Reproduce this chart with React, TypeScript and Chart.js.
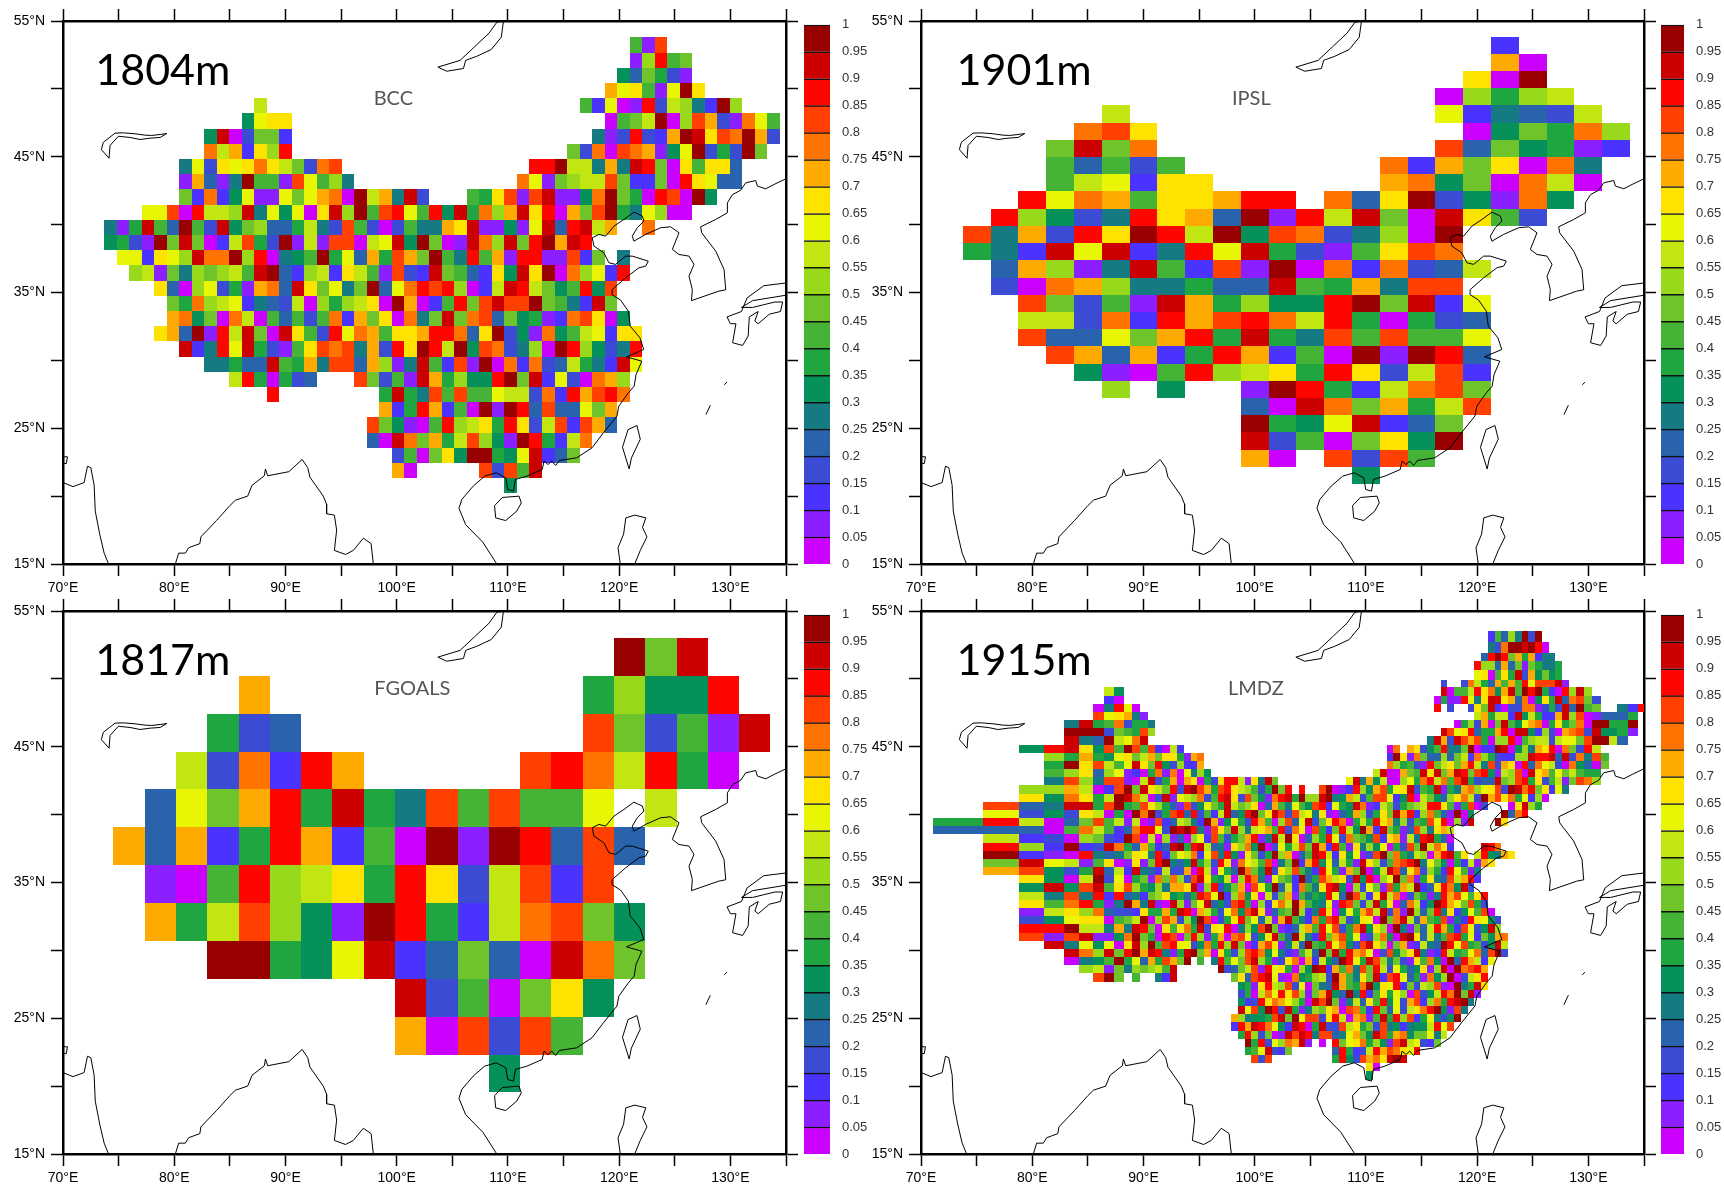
import React, { useEffect, useRef } from "react";
import { Chart, registerables } from "chart.js";
Chart.register(...registerables);

type Row = [number, number, string];

const levels = [0,0.05,0.1,0.15,0.2,0.25,0.3,0.35,0.4,0.45,0.5,0.55,0.6,0.65,0.7,0.75,0.8,0.85,0.9,0.95];
const levelColors = ["#cc00ff","#8c1fff","#4b33ff","#3b4bd4","#2863ab","#157a82","#07915a","#1fa640","#45b336","#70c42b","#99d91c","#c2e612","#e8f505","#ffe300","#ffaa00","#ff7300","#ff4000","#ff0500","#cc0000","#990000"];
const classCodes = "abcdefghijklmnopqrst";

const panelNames = ["BCC","IPSL","FGOALS","LMDZ"];
const panelHeights = ["1804m","1901m","1817m","1915m"];
const xTicksLabelled = [70,80,90,100,110,120,130];
const yTicksLabelled = [15,25,35,45,55];

// class codes: a = 0-0.05 ... t = 0.95-1
const fgoalsRows = [
"................tjs..",
"....o..........hkggr.",
"...hde.........qjdibs",
"..ldpcro.....qrplrha.",
".emjorhshfqiqiim.l...",
"oeochrociatbtreqe....",
".bairklnhrndlqcq.....",
".ohlqkgbtrhclpqjg....",
"...tthgmscejeaspj....",
".........sdiajng.....",
".........oaqdqi......",
"............g........",
];
const fgoalsLats = [51.63,48.84,46.05,43.25,40.46,37.67,34.88,32.09,29.30,26.51,23.72,20.93];

const ipslRows = [
"...................c....",
"...................oa...",
"..................nat...",
".................akhkl..",
".....l...........mcfedl.",
"....pqn...........agjhpk",
"...jsjp..........qejghbc",
"...ieidi.......pcojnapf.",
"...ilmcnn......opgjapla.",
"..rmpoinnorr.pentdgbpg..",
".rkgdfrnoetbrlsjasnid...",
"qfodrntrltgqpdfkat......",
"hfcsmscfrmshdbinqp......",
".eokbfsicqbtapcpdel.....",
".dapokffheesihofqq......",
"..qjdibsohkggrtjscm.....",
"..lldpcroqrplrhahde.....",
"..qeemjorhshfqiqiim.....",
"...qoeochrociatbtre.....",
"....gbairklnhrndlqc.....",
".....k.g..btrhclpqj.....",
"..........easpjohlq.....",
"..........thgmscej......",
"..........sdiajngt......",
"..........oa.qdqi.......",
"..............g.........",
];

const bccRows: Row[] = [
[0,108,"ibq"],[1,108,"bkrij"],[2,107,"gejhdb"],[3,106,"omnibmtn"],
[4,78,"l"],[4,104,"icmabrdlkfctk"],
[5,77,"gmnn"],[5,106,"aijltakqodbpmi"],
[6,74,"gsadjjc"],[6,105,"fbdrdcotsnqptod"],
[7,74,"plocnkr"],[7,103,"jdpaqpobgmtdhdtj"],
[8,72,"fmdnmnpnljdpq"],[8,100,"rrtllfofsrjaninne"],
[9,72,"boebftiibqmikf"],[9,99,"pmbjkllqjccjarnmee"],
[10,72,"jcpcgmbbmjmopatlofsd"],[10,95,"ihnqbqsbbgptjharqatg"],
[11,69,"mmqarllksfmgmansktiqrmirgshpkosnraojqthfmkaa"],
[12,66,"fbhsietidsgjkeehlfdqidadiffonsbbgbmserslo"],[12,109,"p"],
[13,66,"ghdbtjsjaclqhdtblbqqalmsgtjabspksjrtosr"],
[14,67,"mmcnmkspptkrafgithmeohqojtifriobrrbbqcj"],[14,107,"f"],
[15,68,"klbjfkjklisteckl"+"cnlibqdcsjiecngsntapkmcr"],
[16,70,"neakmdhbopesnjmfjtemprqrkaclsrljgirgq"],
[17,71,"jhpklmcfedlakhklnatoacirjqsqqtjifcsj"],
[18,71,"opgjaplaieidipcojnapfjsjpqejghbcpqnag"],
[19,70,"noetbrlsjasnidrmpoinnorrpentdgbpgilmcnn"],
[20,72,"scfrmshdbinqpqfodrntrltgqpdfkatrkgdfr"],
[21,74,"ffheesihofqqeokbfsicqbtapcpdelhfcsm"],
[22,76,"lrhahde"],[22,86,"qjdibsohkggrtjscmdapok"],
[23,79,"r"],[23,88,"hshfqiqiimlldpcroqrp"],
[24,88,"ochrociatbtreqeemjo"],
[25,87,"qjgbairklnhrndlqcqoe"],
[26,87,"easpjohlqkgbtrhclp"],
[27,89,"diajngtthgmscej"],
[28,89,"oa"],[28,96,"qdqis"],
[29,98,"g"],
];

const lmdzRows: Row[] = [
[0,62,"ciekftdt"],
[1,62,"fdpttstra"],
[2,61,"ertrjohocff"],
[3,60,"rkkeoejbjhffh"],
[4,60,"mnainhsdogjgh"],
[5,55,"d"],[5,58,"dplheoioirmqqqsb"],
[6,7,"lg"],[6,55,"saiilrnpgositrthcarksk"],
[7,7,"ca"],[7,54,"ahbbrmfnssnoepagnhsepqjd"],
[8,6,"afrma"],[8,54,"r"],[8,56,"d"],[8,59,"dnjscaddppbdhdsetij"],[8,80,"fcr"],
[9,6,"qmnofb"],[9,60,"lohllcsglhccoskqabeeeh"],
[10,4,"fshipdhhf"],[10,57,"ahkdoajsigmopahnhjpatthht"],
[11,4,"tttdjihqk"],[11,55,"sqmnrehhorassgckdaopqdsgghb"],
[12,4,"sfetlmps"],[12,53,"fsodsqoqhakkraiklldlmmjqttle"],
[13,2,"grsngqitqiqcalc"],[13,47,"ap"],[13,50,"ondgirffjtacctsagkfonrapjdrl"],
[14,3,"khohgmnjlojnnhbop"],[14,47,"ctnbpjeekejlcpkhdcckksrrsesdpfqi"],
[15,3,"htnqlimsnjrgdkcco"],[15,47,"pkhidbrjlnjorlfqdonarepmldapgeaj"],
[16,3,"iknekmbcahpbpamfkg"],[16,45,"lsaaojisnsjosr"],[16,59,"jqrgblkqasnoimjlihh"],
[17,3,"fqkfqqbalsdhoaonahdnrrlbnfsj"],[17,41,"msfoglaakmhprlpiqshdeesjkqrhndilbjqpk"],
[18,2,"kkolacqtjsnljrdstqohqrnlkidhtjr"],[18,34,"r"],[18,37,"qtabcrkgoqhmnsdihsbhfopkmnqdtsprjncmf"],
[19,2,"ngpnhltspladsbm"+"lkpdirsndqjgbprshtkkstfgoldiqqmcgraljgeknpldtoqnphmcka"],
[20,1,"qefsshqthiqnkheb"+"qdgmjhsljknaeoifmigqrcmhgspbcljdhjklrrnibhqad"],[20,65,"anskh"],
[21,1,"mdgdnlahatptdhqr"+"erdiclsegrtjnsqdqlmfnbaegokdhnjsorckpiebtag"],[21,64,"tepr"],
[22,0,"hrlaejqilblabqcel"+"kfctobgmhdroiakqemsdjnrpahlhrnofkdihqmrakbs"],[22,63,"tn"],
[23,0,"eeeaiplicep"+"rrmdts"+"trfbqnjskflnoirdpmaqhcjrlgtocsjhbeqkfnol"],
[24,1,"lcdakjdctqalakbe"+"akmcqidhjorbfsltnaekhrmdpjigqcnoblfrshea"],
[25,1,"rkctcdspheoicest"+"hrslefbnkpgtadmhlqjsocribnfkgmahdqjtlpnc"],[25,61,"srp"],
[26,1,"tcbarfefjnmfrcjm"+"lpcmqfrgbnjdhtkoaeisrlcngmbdqtjphflkaorsin"],[26,60,"lrgfon"],
[27,1,"jsmlbinabnbjrtfe"+"gshkdrnbpmliqafjtcorgmelhbsnkdipqrtfmjgahclbon"],
[28,1,"oqgdhselcsfecldd"+"oarlbmhetpjgsdnkqifcrmhbojtaglsqenpdkhcrmibf"],
[29,2,"ngaltdmahjbpjpk"+"dqsnhglakrpfbmjictehqolndsgrakmtjpbhnfeqlorc"],
[30,2,"gsgqsinqkhgkfoo"+"nsbkrdgjoaqmhtelcpifnrsgakdmjbqholtcenrpgsd"],
[31,2,"lfqfrcrefcjkngh"+"ehrqmtckpgnaldjobifhgrmetqkcnslpadjhbfroqminr"],
[32,2,"niprhbftofsbask"+"bjmsegdqrhakcnpltoigfmbrqjdkshnaeplcgtromjqhd"],
[33,2,"blnkpeddcnhhohs"+"raolhdmpgqsnbeijtkcfrnagmhoqlsdpbtkejrfncgmiqa"],
[34,2,"dgmnnaijltakqod"+"kgtqadhnrjmelbosifcphqrkdgnmatjpsleoihqbfcrnmgd"],
[35,2,"rrtllfofsrjanin"+"phsdnmrafkgqtjbceloirmqdhpsgnkatfbjelrohcqmdgsk"],
[36,2,"qbqsbbgptjharqa"+"jrkbhoapqmdgnsietlfcrjoqhmbdkpgastnelfiqrhmcjgop"],
[37,3,"sfmgmansktiqrm"+"mdgphrksjacoqnbfletihrmpgdqsnkajobclfetrmqhidgsl"],
[38,4,"spksjrtosrfbh"+"stjoanhdkqrpgmfcbiletjshropmadqgknsfbcrlhimpeqtd"],
[39,4,"afgithmeohqoj"],[39,17,"t"],[39,19,"i"],[39,21,"frimjqskhbdnpaoclgetrmhsqkfjdbnipgaterolcm"],
[40,5,"klbjfkjklis"],[40,22,"tdejlqbrmnhakgtscoipfqjrldmhegnbksatpqro"],
[41,6,"qtj.i..fcs"],[41,24,"jneqrsmbapghkldtoifnjscqrmehbpgktadlnr"],
[42,25,"ghbnrlkqdmajfesoihptgnmrcjdlkqbatfhsn"],
[43,25,"dhalpmrnqkbjosgetfrcinhmkaqdglrptjsb"],
[44,25,"gcdrnpomkhasqtjbflenirgmdoqckphrstf"],
[45,25,"smqgtrdshbfkjnoaqpicrjemdlnprtgbqf"],
[46,24,"okfgghqsjtmqqdnrlaopbishrkqchmfdgt"],
[47,24,"crosrpmgcsrahsddqlnhjdqfgcfgglrmq"],
[48,25,"hrkdjabsqsrfqqefmojgsqhopgjjmfl"],
[49,26,"thrdmkposb"],[49,37,"a.rjmnphkgbqslmdcj"],
[50,26,"himsdcj"],[50,39,"erhcdlroqpnmr"],
[51,27,"qdq"],[51,39,"hrgdqopnsts"],
[52,44,"na"],[53,44,"g"],
];
const lmdzWestLonEdges = [71.04,75.54,78.78,81.03,82.83,84.18,85.44,86.43,87.33,88.23,88.95,89.67,90.39,91.02,91.65,92.37,93.0,93.63];
const lmdzEastLonEdges = [127.66,128.29,128.92,129.64,130.36,131.12,131.85,132.61,133.6,134.5,135.4];
const lmdzNorthLatEdges = [53.49,52.68,51.94,51.28,50.62,49.95,49.37];

const balkhash = [[79.33,46.71],[78.73,46.64],[77.98,46.57],[77.38,46.59],[76.48,46.69],[75.43,46.76],[74.68,46.74],[73.63,46.07],[73.45,45.53],[74.14,44.89],[74.23,45.83],[74.98,46.51],[76.03,46.42],[76.93,46.27],[77.83,46.37],[78.73,46.42],[79.33,46.71]];
const baikal = [[109.6,55],[109,54.9],[108.3,54.1],[107,53.1],[105.7,52.1],[103.7,51.6],[104.5,51.3],[106,51.5],[106.2,52.1],[107.2,52.4],[108.5,52.9],[109.4,53.8],[109.6,55]];
const gujaratBit = [[70,22.9],[70.4,22.9],[70.3,22.4],[70,22.4]];
const indiaWest = [[70,21],[70.9,20.7],[71.9,21],[72.2,22.2],[72.5,22.1],[72.8,20.8],[72.9,18.9],[73.3,17.2],[73.7,15.8],[74.1,15]];
const bayOfBengal = [[80.1,15],[80.4,15.8],[81,15.8],[81.3,16.2],[82.3,16.5],[82.4,17],[83.8,18.2],[85,19.3],[85.5,19.7],[86.6,20],[87,20.8],[88.1,21.5],[88.2,22],[88.4,21.5],[90.3,21.8],[91.5,22.7],[92,22.1],[92.2,21.4],[93.4,20],[93.7,19.4],[93.7,18.7],[94.4,18.6],[94.6,17.5],[94.4,16],[95.4,15.7],[96.1,16],[97,16.9],[97.7,16.5],[97.9,15]];
const eastAsiaCoast = [[109,15],[107.75,16.6],[106.2,17.9],[105.6,19.1],[105.85,19.75],[106.88,20.74],[107.91,21.47],[108.95,21.72],[109.81,21.35],[109.98,20.49],[110.5,20.37],[110.67,21.23],[111.7,21.47],[113.08,21.96],[113.25,22.58],[113.6,22.33],[113.94,22.58],[114.29,22.26],[114.63,22.63],[116.18,22.82],[117.56,23.56],[118.59,24.67],[119.8,25.9],[119.97,26.63],[120.83,27.61],[121.35,28.1],[121.52,28.96],[122.04,29.94],[120.66,30.26],[122.21,30.8],[121.87,31.66],[121,32.52],[120.83,33.62],[120.14,34.43],[119.35,34.85],[119.38,35.22],[120.58,36.08],[121.78,36.82],[122.38,36.94],[122.62,37.31],[121.18,37.68],[120.58,37.68],[119.68,37.07],[119.08,37.19],[118.63,37.92],[117.73,38.42],[117.58,39.03],[118.18,39.28],[118.78,39.15],[119.53,39.89],[120.43,40.38],[121.33,40.92],[122.08,40.63],[122.23,40.26],[121.63,39.77],[121.18,39.15],[121.33,38.78],[122.38,39.28],[123.73,39.77],[124.63,39.84],[125.38,39.4],[124.78,38.17],[125.38,37.8],[126.28,37.68],[126.73,37.07],[126.28,36.2],[126.58,35.22],[126.5,34.4],[128.95,35.1],[129.58,35.2],[129.43,36.7],[128.68,38.05],[127.42,39.4],[127.33,39.84],[128.68,40.38],[129.73,40.87],[129.73,41.6],[130.18,42.2],[130.93,42.54],[131.38,43.08],[132.28,43.25],[132.43,42.84],[133.18,42.64],[133.93,42.96],[135,43.38]];
const taiwan = [[121.6,25.2],[120.8,24.9],[120.3,23.6],[120.9,22],[121.1,22.8],[121.9,24.2],[121.6,25.2]];
const hainan = [[111,20],[109.5,19.9],[108.8,19.3],[108.9,18.4],[109.8,18.2],[110.8,18.9],[111.2,19.5],[111,20]];
const luzon = [[120.1,15],[119.9,16.2],[120.4,17.2],[120.6,18.4],[121.4,18.6],[122.4,18.4],[122.1,17.7],[122.5,17],[121.9,16],[121.4,15]];
const japan = [[135,35.7],[133,35.5],[131.5,34.6],[131,33.6],[129.7,33.2],[130,32.7],[130.5,32.7],[130.2,31.3],[131.1,31.1],[131.6,31.8],[131.7,33.2],[132.5,33.6],[132.2,32.9],[132.5,32.7],[133.5,33.4],[134.5,33.6],[134.7,34.3],[134,34.3],[133,34.1],[132,33.9],[131,33.9],[132,34.4],[135,34.8]];
const ryukyuA = [[129.45,28.2],[129.7,28.4]];
const ryukyuB = [[127.8,26],[128.2,26.7]];
const coastlines = [balkhash,baikal,gujaratBit,indiaWest,bayOfBengal,eastAsiaCoast,taiwan,hainan,luzon,japan,ryukyuA,ryukyuB];

type Cell = { x:number; y:number; v:number; x0:number; x1:number; y0:number; y1:number };

function decode(rows: Row[], lonEdge:(c:number)=>number, latEdge:(r:number)=>number): Cell[] {
  const out: Cell[] = [];
  for (const [r, start, codes] of rows) {
    for (let i = 0; i < codes.length; i++) {
      const idx = classCodes.indexOf(codes[i]);
      if (idx < 0) continue;
      const c = start + i;
      const x0 = lonEdge(c), x1 = lonEdge(c + 1), y0 = latEdge(r + 1), y1 = latEdge(r);
      out.push({ x:(x0+x1)/2, y:(y0+y1)/2, v:levels[idx]+0.025, x0, x1, y0, y1 });
    }
  }
  return out;
}
const pad = (rows:string[]):Row[] => rows.map((s,i)=>[i,0,s] as Row);

const bccCells = decode(bccRows, c => 1.125*c-0.5625, r => 53.23+0.56-1.1195*r);
const ipslCells = decode(pad(ipslRows), c => 73.75+2.5*c, r => 53.22+0.634-1.268*r);
const fgoalsCells = decode(pad(fgoalsRows), c => 2.8125*(27+c)-1.40625, r => r<fgoalsLats.length ? fgoalsLats[r]+1.395 : fgoalsLats[r-1]-1.395);
const lmdzLon = (c:number) => c<=17 ? lmdzWestLonEdges[c] : c<=72 ? 93.63+0.6075*(c-17) : lmdzEastLonEdges[c-73];
const lmdzLat = (r:number) => r<=6 ? lmdzNorthLatEdges[r] : 49.37-0.6018*(r-6);
const lmdzCells = decode(lmdzRows, lmdzLon, lmdzLat);
const panelCells = [bccCells, ipslCells, fgoalsCells, lmdzCells];

const cellPlugin = {
  id:"cells",
  beforeDatasetsDraw(chart:any){
    const {ctx, chartArea:a, scales} = chart;
    ctx.save();
    ctx.beginPath(); ctx.rect(a.left,a.top,a.right-a.left,a.bottom-a.top); ctx.clip();
    for (const d of chart.data.datasets[0].data as Cell[]) {
      const l = Math.round(scales.x.getPixelForValue(d.x0));
      const r = Math.round(scales.x.getPixelForValue(d.x1));
      const t = Math.round(scales.y.getPixelForValue(d.y1));
      const b = Math.round(scales.y.getPixelForValue(d.y0));
      ctx.fillStyle = levelColors[Math.min(19,Math.floor(d.v/0.05))];
      ctx.fillRect(l,t,r-l,b-t);
    }
    ctx.restore();
  }
};

const labelPlugin = {
  id:"panelText",
  afterDraw(chart:any){
    const o = chart.options.plugins.panelText;
    const {ctx, scales} = chart;
    ctx.save();
    ctx.textAlign="left"; ctx.textBaseline="alphabetic"; ctx.fillStyle="#000";
    ctx.font='43px Lato';
    ctx.fillText(o.height, scales.x.getPixelForValue(o.heightLon), scales.y.getPixelForValue(50.25));
    ctx.textAlign="center"; ctx.textBaseline="middle"; ctx.fillStyle="#555";
    ctx.font='20px Lato';
    ctx.fillText(o.name, scales.x.getPixelForValue(o.nameLon), scales.y.getPixelForValue(49.3));
    ctx.restore();
  }
};

const axisFont = { family:"Liberation Sans", size:14 };

function mapConfig(i:number, yWidth:number):any {
  const grid = { display:true, drawOnChartArea:false, drawTicks:true, tickLength:12, tickColor:"#000", tickWidth:1.5 };
  const border = { display:true, color:"#000", width:2.5 };
  const xBase = { type:"linear", min:70, max:135, grid, border };
  const yBase = { type:"linear", min:15, max:55, grid, border };
  return {
    type:"scatter",
    data:{ datasets:[
      { data:panelCells[i], pointRadius:0, showLine:false },
      ...coastlines.map(c=>({ data:c.map(([x,y])=>({x,y})), showLine:true, pointRadius:0, borderColor:"#000", borderWidth:1, tension:0, fill:false })),
    ]},
    options:{
      animation:false, responsive:false, devicePixelRatio:1, events:[],
      layout:{ padding:0 },
      plugins:{ legend:{display:false}, tooltip:{enabled:false}, title:{display:false},
        panelText:{ name:panelNames[i], height:panelHeights[i], heightLon: i%2===0 ? 72.9 : 73.2, nameLon: i===2 ? 101.4 : i===3 ? 100.1 : 99.7 } },
      scales:{
        x:{ ...xBase, position:"bottom", afterFit:(s:any)=>{s.height=30;},
          ticks:{ stepSize:5, autoSkip:false, maxRotation:0, padding:4, color:"#000", font:axisFont,
            callback:(v:number)=> xTicksLabelled.includes(v) ? `${v}°E` : "" } },
        x2:{ ...xBase, axis:"x", position:"top", afterFit:(s:any)=>{s.height=21;},
          ticks:{ stepSize:5, autoSkip:false, maxRotation:0, callback:()=>"" } },
        y:{ ...yBase, position:"left", afterFit:(s:any)=>{s.width=yWidth;},
          ticks:{ stepSize:5, autoSkip:false, padding:6, color:"#000", font:axisFont,
            callback:(v:number)=> yTicksLabelled.includes(v) ? `${v}°N` : "" } },
        y2:{ ...yBase, axis:"y", position:"right", afterFit:(s:any)=>{s.width=14;},
          ticks:{ stepSize:5, autoSkip:false, callback:()=>"" } },
      }
    },
    plugins:[cellPlugin,labelPlugin],
  };
}

function barConfig():any {
  return {
    type:"bar",
    data:{ labels:[""], datasets: levels.map((_,i)=>({ data:[0.05], backgroundColor:levelColors[i], borderColor:"#111", borderWidth:{top:1.5}, borderSkipped:false, barPercentage:1, categoryPercentage:1 })) },
    options:{
      animation:false, responsive:false, devicePixelRatio:1, events:[],
      layout:{ padding:{ left:4, top:8, bottom:12, right:0 } },
      plugins:{ legend:{display:false}, tooltip:{enabled:false} },
      scales:{
        x:{ stacked:true, display:false },
        y:{ stacked:true, position:"right", min:0, max:1, afterFit:(s:any)=>{s.width=40;},
          grid:{display:false}, border:{display:false},
          ticks:{ stepSize:0.05, autoSkip:false, padding:4, color:"#333", font:{family:"Liberation Sans",size:13},
            callback:(v:number)=> String(Number(v.toFixed(2))) } },
      }
    }
  };
}

const mapBoxes = [
  { left:0, top:0, width:800, height:594, yWidth:63 },
  { left:860, top:0, width:798, height:594, yWidth:61 },
  { left:0, top:590, width:800, height:594, yWidth:63 },
  { left:860, top:590, width:798, height:594, yWidth:61 },
];
const barBoxes = [
  { left:800, top:13, width:70, height:563 },
  { left:1657, top:13, width:67, height:563 },
  { left:800, top:603, width:70, height:563 },
  { left:1657, top:603, width:67, height:563 },
];

function Canvas({ box, make }:{ box:any; make:()=>any }) {
  const ref = useRef<HTMLCanvasElement>(null);
  useEffect(()=>{
    const c = new Chart(ref.current as HTMLCanvasElement, make());
    return ()=>c.destroy();
  },[]);
  return <canvas ref={ref} width={box.width} height={box.height}
    style={{ position:"absolute", left:box.left, top:box.top, width:box.width, height:box.height }} />;
}

export default function App(){
  return (
    <div style={{ position:"absolute", left:0, top:0, width:1724, height:1188, background:"#fff", overflow:"hidden" }}>
      {mapBoxes.map((b,i)=><Canvas key={"m"+i} box={b} make={()=>mapConfig(i,b.yWidth)} />)}
      {barBoxes.map((b,i)=><Canvas key={"b"+i} box={b} make={()=>barConfig()} />)}
    </div>
  );
}
